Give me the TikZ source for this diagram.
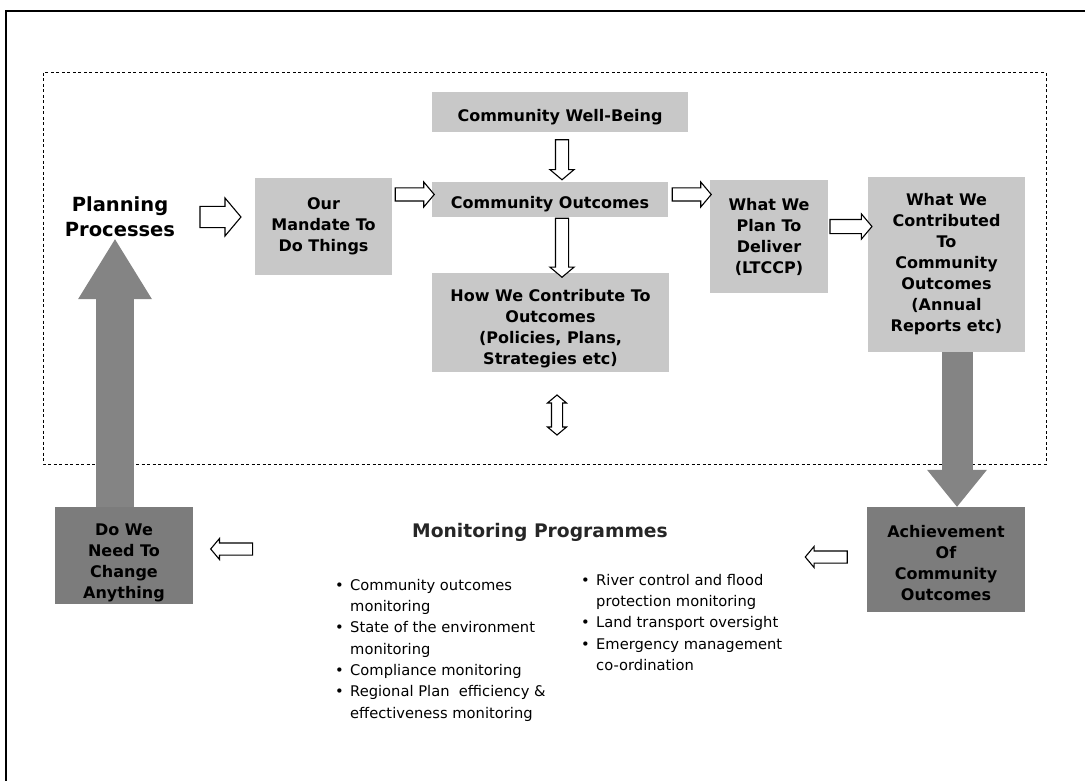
\documentclass[tikz,border=0pt]{standalone}
\usepackage{fontspec}
\setmainfont{DejaVu Sans}
\usetikzlibrary{shapes.arrows,arrows.meta}
\definecolor{boxlight}{RGB}{200,200,200}
\definecolor{boxdark}{RGB}{124,124,124}
\definecolor{arrgray}{RGB}{132,132,132}
\newcommand{\bul}{\makebox[15pt][l]{\textbullet}}
\newcommand{\ind}{\hspace*{15pt}}
\newcommand{\lowr}[2]{\raisebox{-#1}[\height][\depth]{\begin{tabular}{@{}c@{}}#2\end{tabular}}}
\tikzset{%
    lbox/.style={fill=boxlight, inner sep=0pt, align=center, font=\bfseries\fontsize{16}{21}\selectfont},
    dbox/.style={lbox, fill=boxdark},
    oarr/.style n args={3}{single arrow, draw=black, fill=white, line width=1.1pt, inner sep=#1,
        single arrow head extend=#2, minimum height=#3, single arrow tip angle=100},
    bigarr/.style n args={3}{draw=arrgray, line width=#1, -{Triangle[length=#2, width=#3, line width=0pt]}},
    lst/.style={anchor=north west, align=left, inner sep=0pt, font=\fontsize{14.7}{21.3}\selectfont}
}

\begin{document}
\begin{tikzpicture}[x=1pt, y=-1pt]
            \useasboundingbox (0,0) rectangle (1085,781);
            \draw[line width=1.5pt] (6,781) -- (6,11) -- (1085,11);
            \draw[line width=1pt, dash pattern=on 3pt off 2.5pt] (43,73) rectangle (1046,464);

            \node[font=\bfseries\fontsize{19.5}{25}\selectfont, align=center, inner sep=2pt] (plan) at (120,217) {Planning\\Processes};
            \node[lbox, minimum width=137pt, minimum height=97pt] (mand) at (323.5,226.5) {Our\\Mandate To\\Do Things};
            \node[lbox, minimum width=256pt, minimum height=40pt] (wb) at (560,112) {\lowr{5pt}{Community Well-Being}};
            \node[lbox, minimum width=236pt, minimum height=35pt] (co) at (550,199.5) {\lowr{5pt}{Community Outcomes}};
            \node[lbox, minimum width=237pt, minimum height=99pt] (how) at (550.5,322.5) {\lowr{6pt}{How We Contribute To\\Outcomes\\(Policies, Plans,\\Strategies etc)}};
            \node[lbox, minimum width=118pt, minimum height=113pt] (del) at (769,236.5) {What We\\Plan To\\Deliver\\(LTCCP)};
            \node[lbox, minimum width=157pt, minimum height=175pt] (contr) at (946.5,264.5) {What We\\Contributed\\To\\Community\\Outcomes\\(Annual\\Reports etc)};
            \node[dbox, minimum width=158pt, minimum height=105pt] (ach) at (946,559.5) {\lowr{5pt}{Achievement\\Of\\Community\\Outcomes}};
            \node[dbox, minimum width=138pt, minimum height=97pt] (chg) at (124,555.5) {\lowr{7pt}{Do We\\Need To\\Change\\Anything}};
            \node[font=\bfseries\fontsize{18.7}{22}\selectfont, text=black!85] (mon) at (540,532) {Monitoring Programmes};
            \node[lst] (lsta) at (335,579) {\bul Community outcomes\\
                \ind monitoring\\
                \bul State of the environment\\
                \ind monitoring\\
                \bul Compliance monitoring\\
                \bul Regional Plan\ \ efficiency \&\\
                \ind effectiveness monitoring};
            \node[lst] (lstb) at (581,574) {\bul River control and flood\\
                \ind protection monitoring\\
                \bul Land transport oversight\\
                \bul Emergency management\\
                \ind co-ordination};

            \path (plan.east) -- node[oarr={10pt}{8.5pt}{41pt}]{} (plan.east -| mand.west);
            \path ([yshift=5pt]co.west -| mand.east) -- node[oarr={6pt}{6pt}{39pt}]{} ([yshift=5pt]co.west);
            \path ([xshift=2pt]wb.south) -- node[oarr={6pt}{5.5pt}{40pt}, rotate=-90]{} ([xshift=2pt]wb.south |- co.north);
            \path ([xshift=12pt]co.south) -- node[oarr={6pt}{5.5pt}{59pt}, rotate=-90]{} ([xshift=12pt]co.south |- how.north);
            \path ([yshift=5pt]co.east) -- node[oarr={6pt}{6pt}{39pt}]{} ([yshift=5pt]co.east -| del.west);
            \path ([yshift=10pt]del.east) -- node[oarr={6.5pt}{5.5pt}{42pt}]{} ([yshift=10pt]del.east -| contr.west);
            \node[oarr={5.5pt}{4.5pt}{42pt}, rotate=180] (la) at ([xshift=-38pt,yshift=2.5pt]ach.west) {};
            \node[oarr={5.5pt}{4.5pt}{42pt}, rotate=180] (lb) at ([xshift=41pt,yshift=6.5pt]chg.east) {};
            \node[double arrow, draw=black, fill=white, line width=1.1pt, inner sep=5pt, double arrow head extend=4pt,
                minimum height=40pt, double arrow tip angle=100, rotate=90] (dbl) at (557,415) {};

            \draw[bigarr={38pt}{60pt}{74pt}] ([xshift=-9pt]chg.north) -- ([xshift=-9pt]chg.north |- plan.south);
            \draw[bigarr={31pt}{37pt}{60pt}] ([xshift=10.5pt]contr.south) -- ([xshift=10.5pt]contr.south |- ach.north);
        \end{tikzpicture}
\end{document}
